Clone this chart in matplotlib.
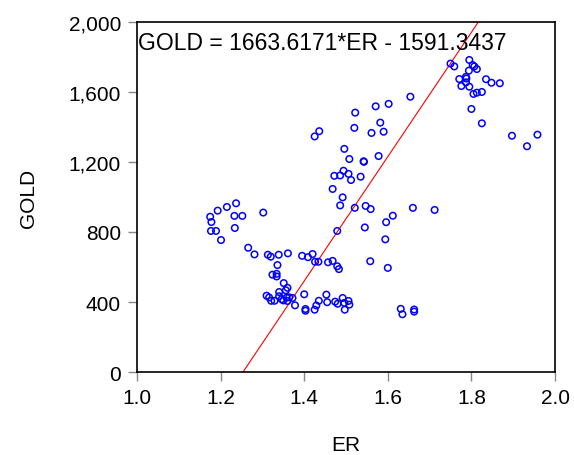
#!/usr/bin/env python3
# Scatter of GOLD against ER with the fitted line

import numpy as np
import matplotlib
matplotlib.use("Agg")
from matplotlib import pyplot as plt
from matplotlib.ticker import FuncFormatter

plt.rcParams.update({
    "font.family": ["Liberation Sans", "DejaVu Sans"],
    "font.size": 15,
})

# points
er_top = [1.750, 1.759, 1.795, 1.803, 1.807, 1.813, 1.794, 1.771, 1.787, 1.788,
          1.787, 1.776, 1.795, 1.835, 1.848, 1.868, 1.805, 1.813, 1.825, 1.800,
          1.825, 1.897, 1.958, 1.933]
gold_top = [1762, 1746, 1783, 1754, 1746, 1731, 1722, 1674, 1687, 1677,
            1655, 1634, 1630, 1673, 1653, 1650, 1589, 1596, 1600, 1503,
            1421, 1350, 1356, 1290]

er_mid = [1.654, 1.602, 1.571, 1.522, 1.436, 1.425, 1.520, 1.582, 1.561, 1.590,
          1.496, 1.508, 1.542, 1.543, 1.578, 1.494, 1.472, 1.486, 1.506, 1.512,
          1.535, 1.468, 1.492, 1.486, 1.521, 1.547, 1.559, 1.660, 1.712, 1.612,
          1.596, 1.545, 1.479, 1.594]
gold_mid = [1573, 1532, 1518, 1482, 1376, 1346, 1395, 1425, 1366, 1373,
            1275, 1217, 1204, 1201, 1234, 1150, 1121, 1123, 1132, 1097,
            1116, 1046, 998, 952, 938, 949, 931, 938, 926, 893,
            856, 826, 806, 758]

er_left = [1.175, 1.178, 1.193, 1.215, 1.237, 1.233, 1.252, 1.302, 1.177, 1.189,
           1.234, 1.201, 1.266, 1.281, 1.313, 1.320, 1.339, 1.361, 1.336, 1.395,
           1.409, 1.420, 1.426, 1.434, 1.457, 1.468, 1.479, 1.483, 1.558, 1.600]
gold_left = [887, 857, 922, 943, 964, 892, 892, 911, 806, 806,
             823, 754, 710, 672, 670, 659, 670, 678, 611, 664,
             656, 674, 630, 630, 627, 635, 604, 588, 633, 595]

er_low = [1.324, 1.334, 1.334, 1.351, 1.360, 1.356, 1.310, 1.316, 1.321, 1.329,
          1.340, 1.340, 1.346, 1.350, 1.358, 1.364, 1.372, 1.360, 1.378, 1.400,
          1.403, 1.403, 1.425, 1.429, 1.435, 1.453, 1.455, 1.474, 1.480, 1.492,
          1.496, 1.506, 1.508, 1.497, 1.631, 1.635, 1.663, 1.663]
gold_low = [556, 561, 546, 508, 481, 467, 436, 426, 407, 407,
            457, 433, 416, 409, 425, 427, 423, 406, 381, 444,
            360, 350, 356, 380, 407, 442, 399, 402, 390, 423,
            395, 406, 385, 356, 361, 330, 357, 345]

er = er_top + er_mid + er_left + er_low
gold = gold_top + gold_mid + gold_left + gold_low

# red line as drawn (ends where it leaves the plot)
line_er = [1.2536, 1.8166]
line_gold = [0, 2000]

fig = plt.figure(figsize=(5.74, 4.56), dpi=100)
ax = fig.add_axes([0.2387, 0.182, 0.7282, 0.7676])

ax.plot(line_er, line_gold, color="red", lw=0.8)
ax.scatter(er, gold, s=22, facecolors="none", edgecolors="#0000ff", linewidths=1.1, zorder=3)

ax.set_xlim(1.0, 2.0)
ax.set_ylim(0, 2000)
ax.set_xticks(np.arange(1.0, 2.01, 0.2))
ax.set_yticks(np.arange(0, 2001, 400))
ax.xaxis.set_major_formatter(FuncFormatter(lambda v, p: f"{v:.1f}"))
ax.yaxis.set_major_formatter(FuncFormatter(lambda v, p: f"{int(v):,}"))
ax.tick_params(direction="out", length=6.5, width=1, color="#888888", labelsize=15, pad=5)
for s in ax.spines.values():
    s.set_linewidth(1.2)

ax.set_xlabel("ER", labelpad=20)
ax.set_ylabel("GOLD", labelpad=22)

ax.text(0.003, 0.975, "GOLD = 1663.6171*ER - 1591.3437", transform=ax.transAxes,
        ha="left", va="top", fontsize=16.5)

plt.savefig("out.png", dpi=100)
